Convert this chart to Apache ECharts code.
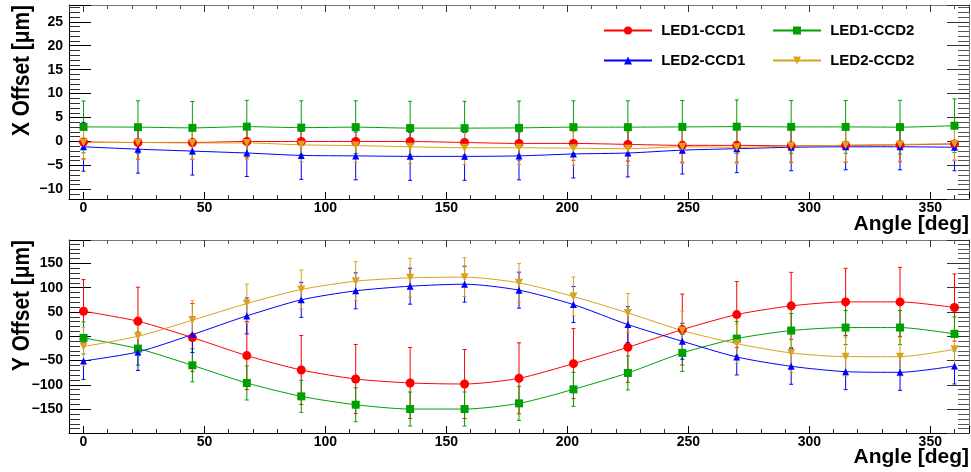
<!DOCTYPE html>
<html>
<head>
<meta charset="utf-8">
<script src="https://cdn.jsdelivr.net/npm/echarts@6/dist/echarts.min.js"></script>
<style>
  html, body { margin: 0; padding: 0; background: #fff; }
  #chart { width: 971px; height: 472px; }
</style>
</head>
<body>
<div id="chart"></div>
<script>
var angles = [0, 22.5, 45, 67.5, 90, 112.5, 135, 157.5, 180, 202.5, 225, 247.5, 270, 292.5, 315, 337.5, 360];
var seriesNames = ['LED1-CCD1', 'LED1-CCD2', 'LED2-CCD1', 'LED2-CCD2'];

// X offset [um]
var xLed1Ccd1 = [-0.1, -0.2, -0.2, 0, 0, 0, 0, -0.2, -0.4, -0.4, -0.6, -0.8, -0.8, -0.9, -0.8, -0.7, -0.5];
var xLed1Ccd2 = [3.05, 3.0, 2.85, 3.1, 2.9, 3.0, 2.8, 2.8, 2.85, 3.0, 3.0, 3.05, 3.1, 3.05, 3.05, 3.0, 3.3];
var xLed2Ccd1 = [-1.1, -1.6, -2.0, -2.4, -2.9, -3.0, -3.1, -3.1, -3.0, -2.6, -2.4, -1.8, -1.5, -1.2, -1.1, -1.1, -1.2];
var xLed2Ccd2 = [-0.2, -0.2, -0.3, -0.3, -0.7, -0.85, -1.1, -1.3, -1.3, -1.4, -1.5, -1.1, -1.2, -0.95, -0.8, -0.6, -0.5];
var xErrLed1Ccd1 = [3.5, 3.5, 3.5, 3.4, 3.5, 3.5, 3.5, 3.5, 3.5, 3.5, 3.5, 3.5, 3.5, 3.4, 3.5, 3.5, 3.4];
var xErrLed1Ccd2 = [5.4, 5.5, 5.5, 5.5, 5.6, 5.5, 5.6, 5.6, 5.6, 5.5, 5.5, 5.5, 5.6, 5.5, 5.5, 5.6, 5.6];
var xErrLed2Ccd1 = [5.1, 5.0, 5.0, 4.9, 5.0, 5.0, 5.0, 5.0, 5.0, 5.0, 5.0, 5.0, 5.0, 4.9, 4.8, 4.8, 4.9];
var xErrLed2Ccd2 = [3.5, 3.5, 3.5, 3.5, 3.5, 3.5, 3.5, 3.5, 3.5, 3.5, 3.5, 3.5, 3.5, 3.5, 3.5, 3.5, 3.5];

// Y offset [um]
var yLed1Ccd1 = [51.5, 30.9, -2.7, -39.8, -69.4, -87.9, -96.1, -98.2, -86.5, -56.3, -22.7, 13.7, 44.6, 62.5, 70.7, 70.7, 59.1];
var yLed1Ccd2 = [-3.4, -25.4, -59.8, -96.1, -123.6, -140.8, -149.7, -149.7, -138, -109.2, -75.5, -34.3, -4.8, 11.7, 17.9, 17.9, 4.8];
var yLed2Ccd1 = [-50.8, -32.3, 3.4, 41.9, 74.9, 93.4, 103, 107.1, 94.8, 65.2, 24.0, -10.3, -42.6, -61.8, -72.8, -74.2, -61.2];
var yLed2Ccd2 = [-21.3, 0, 33, 67.3, 96.2, 113.3, 120.2, 121.6, 109.9, 81.8, 48, 11.7, -15.1, -34.3, -41.9, -41.9, -26.8];
var yErrLed1Ccd1 = [65, 70, 70, 70, 71, 71, 73, 71, 73, 72, 72, 73, 68, 69, 69, 71, 69];
var yErrLed1Ccd2 = [33, 34, 34, 35, 33, 35, 35, 35, 35, 35, 35, 38, 35, 35, 35, 35, 35];
var yErrLed2Ccd1 = [38, 38, 37, 37, 36, 37, 37, 37, 37, 37, 37, 37, 37, 37, 37, 37, 37];
var yErrLed2Ccd2 = [40, 40, 40, 40, 40, 40, 40, 40, 40, 40, 40, 40, 40, 40, 40, 40, 40];

var FONT = 'Liberation Sans, Arial, Helvetica, sans-serif';
var colors = ['#ff0000', '#00a000', '#0000ff', '#d9a21f'];
var symbols = ['circle', 'rect', 'triangle', 'triangle'];
var symbolRotates = [0, 0, 0, 180];
var symbolSizes = [9, 8, 7, 8];

var chart = echarts.init(document.getElementById('chart'));

function minus(v) {
  return String(v).replace('-', '\u2212');
}

function errorItem(params, api) {
  var x = api.value(0), y = api.value(1), e = api.value(2);
  var hi = api.coord([x, y + e]);
  var lo = api.coord([x, y - e]);
  var st = { stroke: api.visual('color'), lineWidth: 1 };
  return {
    type: 'group',
    children: [
      { type: 'line', shape: { x1: hi[0], y1: hi[1], x2: lo[0], y2: lo[1] }, style: st },
      { type: 'line', shape: { x1: hi[0] - 2, y1: hi[1], x2: hi[0] + 2, y2: hi[1] }, style: st },
      { type: 'line', shape: { x1: lo[0] - 2, y1: lo[1], x2: lo[0] + 2, y2: lo[1] }, style: st }
    ]
  };
}

function makeXAxes(gi) {
  var base = {
    type: 'value', gridIndex: gi, min: -6, max: 366, splitNumber: 7,
    splitLine: { show: false }
  };
  var bottom = Object.assign({}, base, {
    position: 'bottom',
    axisLine: { onZero: false, lineStyle: { color: '#000', width: 1 } },
    axisTick: { inside: true, length: 7, lineStyle: { color: '#000' } },
    minorTick: { show: true, splitNumber: 5, length: 4, lineStyle: { color: '#333' } },
    axisLabel: {
      showMinLabel: false, showMaxLabel: false, margin: 2,
      fontSize: 14, fontWeight: 'bold', fontFamily: FONT, color: '#000'
    }
  });
  var top = Object.assign({}, base, {
    position: 'top',
    axisLine: { onZero: false, lineStyle: { color: '#777', width: 1 } },
    axisTick: { inside: true, length: 7, lineStyle: { color: '#333' } },
    minorTick: { show: true, splitNumber: 5, length: 4, lineStyle: { color: '#555' } },
    axisLabel: { show: false }
  });
  return [bottom, top];
}

function makeYAxes(gi, min, max) {
  var base = {
    type: 'value', gridIndex: gi, min: min, max: max, splitNumber: 8,
    splitLine: { show: false }
  };
  var left = Object.assign({}, base, {
    position: 'left',
    axisLine: { onZero: false, lineStyle: { color: '#000', width: 1 } },
    axisTick: { inside: true, length: 22, lineStyle: { color: '#000' } },
    minorTick: { show: true, splitNumber: 5, length: 11, lineStyle: { color: '#333' } },
    axisLabel: {
      showMinLabel: false, showMaxLabel: false, margin: 6, formatter: minus,
      fontSize: 14, fontWeight: 'bold', fontFamily: FONT, color: '#000'
    }
  });
  var right = Object.assign({}, base, {
    position: 'right',
    axisLine: { onZero: false, lineStyle: { color: '#777', width: 1 } },
    axisTick: { inside: true, length: 22, lineStyle: { color: '#333' } },
    minorTick: { show: true, splitNumber: 5, length: 11, lineStyle: { color: '#555' } },
    axisLabel: { show: false }
  });
  return [left, right];
}

function makeSeries(gi, values, errors) {
  var out = [];
  for (var k = 0; k < 4; k++) {
    var pts = angles.map(function (a, i) { return [a, values[k][i]]; });
    var errPts = angles.map(function (a, i) { return [a, values[k][i], errors[k][i]]; });
    out.push({
      name: 'err ' + seriesNames[k] + ' ' + gi,
      type: 'custom',
      xAxisIndex: gi * 2, yAxisIndex: gi * 2,
      renderItem: errorItem,
      itemStyle: { color: colors[k] },
      data: errPts,
      z: 2
    });
    out.push({
      name: seriesNames[k],
      type: 'line',
      xAxisIndex: gi * 2, yAxisIndex: gi * 2,
      data: pts,
      smooth: 0.25,
      symbol: symbols[k],
      symbolRotate: symbolRotates[k],
      symbolSize: symbolSizes[k],
      showSymbol: true,
      lineStyle: { color: colors[k], width: 1 },
      itemStyle: { color: colors[k] },
      z: 3
    });
  }
  return out;
}

function legendAt(name, left, top) {
  return {
    data: [name], left: left, top: top, padding: 0,
    itemWidth: 48, itemHeight: 10, selectedMode: false,
    formatter: function (n) { return ' ' + n; },
    textStyle: { fontSize: 15, fontWeight: 'bold', fontFamily: FONT, color: '#000' }
  };
}

function titleText(text, x, y, rotated) {
  var style = {
    text: text, fontSize: rotated ? 24 : 21, fontWeight: 'bold', fontFamily: FONT,
    fill: '#000', align: 'right', verticalAlign: 'middle'
  };
  var el = { type: 'text', x: x, y: y, style: style };
  if (rotated) {
    el.rotation = Math.PI / 2;
    el.scaleX = 0.87;
  }
  return el;
}

var option = {
  animation: false,
  backgroundColor: '#fff',
  grid: [
    { left: 69, top: 5, width: 900, height: 194 },
    { left: 69, top: 240, width: 900, height: 193 }
  ],
  xAxis: makeXAxes(0).concat(makeXAxes(1)),
  yAxis: makeYAxes(0, -12, 28.5).concat(makeYAxes(1, -199, 198)),
  legend: [
    legendAt('LED1-CCD1', 603, 23),
    legendAt('LED2-CCD1', 603, 53),
    legendAt('LED1-CCD2', 772, 23),
    legendAt('LED2-CCD2', 772, 53)
  ],
  graphic: [
    titleText('X Offset [\u03bcm]', 22, 5, true),
    titleText('Y Offset [\u03bcm]', 22, 240, true),
    titleText('Angle [deg]', 969, 224, false),
    titleText('Angle [deg]', 969, 457, false)
  ],
  series: makeSeries(0, [xLed1Ccd1, xLed1Ccd2, xLed2Ccd1, xLed2Ccd2], [xErrLed1Ccd1, xErrLed1Ccd2, xErrLed2Ccd1, xErrLed2Ccd2])
    .concat(makeSeries(1, [yLed1Ccd1, yLed1Ccd2, yLed2Ccd1, yLed2Ccd2], [yErrLed1Ccd1, yErrLed1Ccd2, yErrLed2Ccd1, yErrLed2Ccd2]))
};

chart.setOption(option);
</script>
</body>
</html>
